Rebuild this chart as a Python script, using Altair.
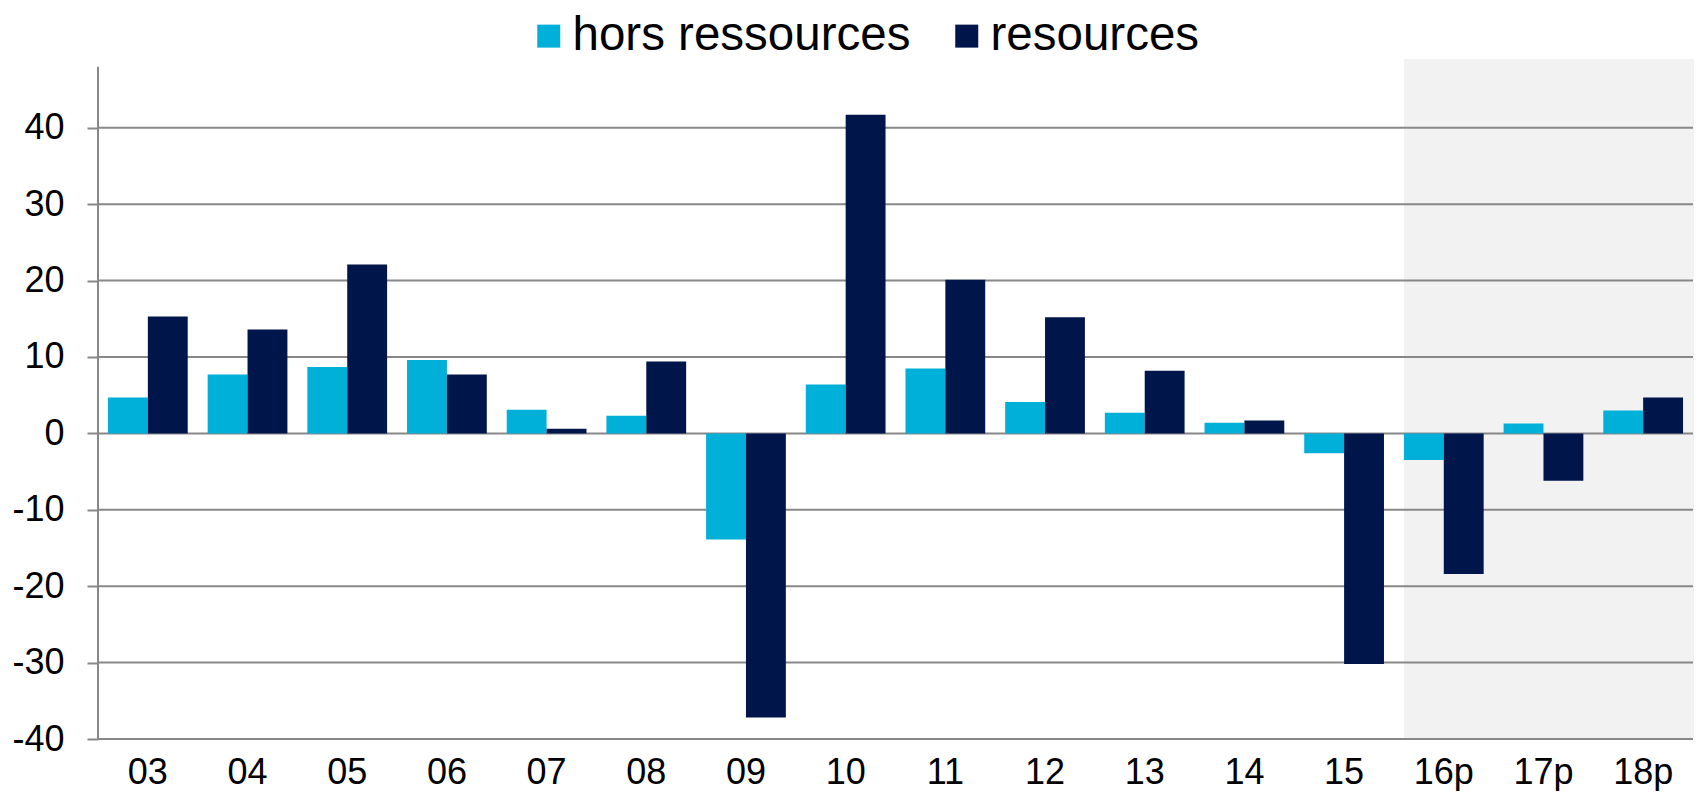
import altair as alt
import pandas as pd

categories = ["03", "04", "05", "06", "07", "08", "09", "10", "11", "12",
              "13", "14", "15", "16p", "17p", "18p"]
hors_ressources = [4.7, 7.7, 8.7, 9.6, 3.1, 2.3, -13.9, 6.4, 8.5, 4.1,
                   2.7, 1.4, -2.6, -3.5, 1.3, 3.0]
resources = [15.3, 13.6, 22.1, 7.7, 0.6, 9.4, -37.2, 41.7, 20.1, 15.2,
             8.2, 1.7, -30.2, -18.4, -6.2, 4.7]
series_names = ["hors ressources", "resources"]
series_colors = ["#00B0D8", "#00154A"]
y_ticks = [-40, -30, -20, -10, 0, 10, 20, 30, 40]
forecast_start = ["16p"]

rows = []
for c, h, r in zip(categories, hors_ressources, resources):
    rows.append({"cat": c, "series": series_names[0], "value": h})
    rows.append({"cat": c, "series": series_names[1], "value": r})
df = pd.DataFrame(rows)

W, H = 1595, 680
FONT = "Liberation Sans"
GRID = "#888888"

x_scale = alt.Scale(domain=categories, paddingInner=0.2, paddingOuter=0.1)
y_scale = alt.Scale(domain=[-40, 49], nice=False, zero=False)

x_axis = alt.Axis(
    labelFontSize=36, labelColor="black", labelFont=FONT,
    ticks=False, tickSize=0, domain=False, grid=False,
    labelAngle=0, labelBaseline="alphabetic", labelPadding=44,
)
y_axis = alt.Axis(
    values=y_ticks, labelExpr="datum.value + ''", grid=False, domain=False,
    ticks=True, tickSize=11, tickColor=GRID, tickWidth=2,
    labelFontSize=36, labelColor="black", labelFont=FONT,
    labelPadding=23,
)

shade = alt.Chart(
    pd.DataFrame({"cat": forecast_start, "top": [49], "bot": [-40]})
).mark_rect(color="#F2F2F2").encode(
    x=alt.X("cat:N", scale=x_scale, bandPosition=0, axis=x_axis, title=None),
    x2=alt.value(W + 3),
    y=alt.Y("top:Q", scale=y_scale, axis=y_axis, title=None),
    y2="bot:Q",
)

grid = alt.Chart(pd.DataFrame({"v": y_ticks})).mark_rule(
    color=GRID, strokeWidth=2
).encode(
    y=alt.Y("v:Q"),
)

bars = alt.Chart(df).mark_bar().encode(
    x=alt.X("cat:N"),
    xOffset=alt.XOffset("series:N", sort=series_names),
    y=alt.Y("value:Q"),
    color=alt.Color(
        "series:N",
        scale=alt.Scale(domain=series_names, range=series_colors),
        title=None,
        legend=alt.Legend(
            orient="none", direction="horizontal",
            legendX=427, legendY=-47,
            symbolType="square", symbolSize=529, symbolStrokeWidth=0,
            labelFontSize=47.5, labelFont=FONT, labelColor="black",
            labelOffset=0, columnPadding=32, padding=0,
            labelLimit=0,
        ),
    ),
)

yaxis_line = alt.Chart(pd.DataFrame({"a": [-40], "b": [48]})).mark_rule(
    color=GRID, strokeWidth=2
).encode(
    x=alt.value(0),
    y=alt.Y("a:Q"),
    y2="b:Q",
)

chart = alt.layer(shade, grid, bars, yaxis_line).properties(
    width=W,
    height=H,
    autosize=alt.AutoSizeParams(type="none"),
    padding={"left": 90, "top": 51, "right": 1, "bottom": 52},
).configure(font=FONT).configure_view(stroke=None)

chart.save("out.html", embed_options={"renderer": "svg", "actions": False})
